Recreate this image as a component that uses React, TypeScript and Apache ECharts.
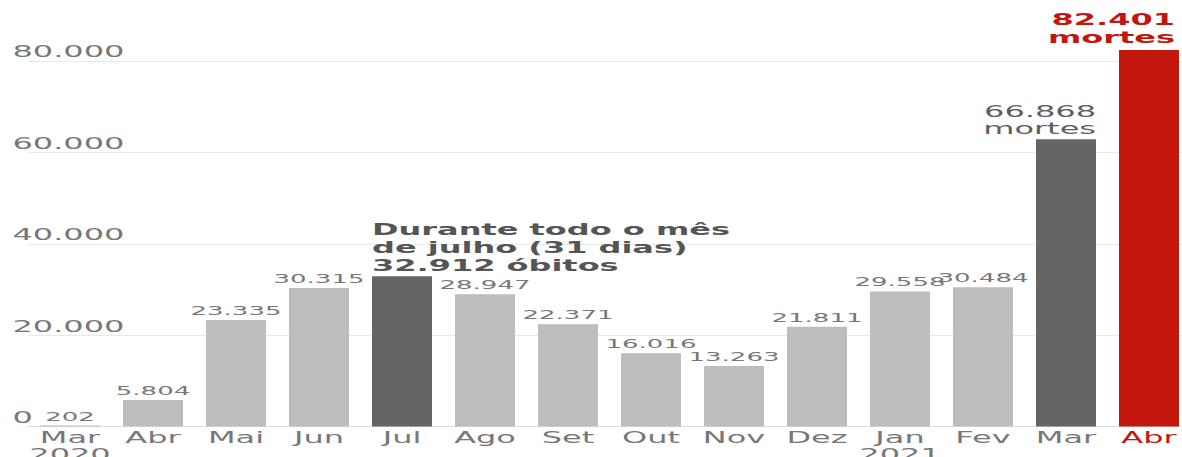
import React, { useEffect, useRef } from "react";
import * as echarts from "echarts";

// Months (category axis)
const categories = ["Mar\n2020", "Abr", "Mai", "Jun", "Jul", "Ago", "Set", "Out", "Nov", "Dez", "Jan\n2021", "Fev", "Mar", "Abr"];
// Monthly deaths as written in the labels
const deaths = [202, 5804, 23335, 30315, 32912, 28947, 22371, 16016, 13263, 21811, 29558, 30484, 66868, 82401];
// Bar heights as drawn in the picture (the Mar 2021 bar is drawn shorter than its label)
const barValues = [202, 5804, 23335, 30315, 32912, 28947, 22371, 16016, 13263, 21811, 29558, 30484, 62900, 82401];
// Y axis ticks
const yTicks = [0, 20000, 40000, 60000, 80000];

const JUL = 4;
const MAR21 = 12;
const ABR21 = 13;

const LIGHT = "#bdbdbd";
const DARK = "#656565";
const RED = "#c3160d";
const FONT = "DejaVu Sans";

const fmt = (n: number) => String(n).replace(/\B(?=(\d{3})+(?!\d))/g, ".");

export default function App() {
  const ref = useRef<HTMLDivElement>(null);
  useEffect(() => {
    if (!ref.current) return;
    const chart = echarts.init(ref.current, undefined, { renderer: "svg" });
    const data = barValues.map((v, i) => {
      const item: any = { value: v, itemStyle: { color: LIGHT } };
      if (i === JUL) {
        item.itemStyle = { color: DARK };
        item.label = {
          position: [0, -2],
          align: "left",
          verticalAlign: "bottom",
          formatter: `Durante todo o mês\nde julho (31 dias)\n${fmt(deaths[i])} óbitos`,
          fontWeight: "bold",
          fontSize: 16,
          lineHeight: 18,
          color: "#555",
        };
      } else if (i === MAR21) {
        item.itemStyle = { color: DARK };
        item.label = {
          position: [30, -2],
          align: "right",
          verticalAlign: "bottom",
          formatter: `${fmt(deaths[i])}\nmortes`,
          fontSize: 16,
          lineHeight: 17,
          color: "#5e5e5e",
        };
      } else if (i === ABR21) {
        item.itemStyle = { color: RED };
        item.label = {
          position: [28, -3],
          align: "right",
          verticalAlign: "bottom",
          formatter: `${fmt(deaths[i])}\nmortes`,
          fontSize: 16,
          fontWeight: "bold",
          lineHeight: 18,
          color: RED,
        };
      }
      return item;
    });
    chart.setOption({
      animation: false,
      textStyle: { fontFamily: FONT },
      grid: { left: 14.25, right: 4.75, top: 61, bottom: 30.5, containLabel: false, outerBoundsMode: "none" },
      xAxis: {
        type: "category",
        data: categories.map((c, i) => (i === ABR21 ? { value: c, textStyle: { color: RED } } : c)),
        axisTick: { show: false },
        axisLine: { show: true, lineStyle: { color: "#dcdcdc", width: 1 } },
        axisLabel: { fontSize: 16, color: "#777", lineHeight: 17, margin: 3, fontFamily: FONT, interval: 0 },
      },
      yAxis: {
        type: "value",
        min: yTicks[0],
        max: yTicks[yTicks.length - 1],
        interval: yTicks[1] - yTicks[0],
        axisLine: { show: false },
        axisTick: { show: false },
        splitLine: { lineStyle: { color: "#e8e8e8", width: 1 } },
        axisLabel: {
          align: "left",
          verticalAlign: "bottom",
          margin: 8,
          fontSize: 16,
          color: "#777",
          fontFamily: FONT,
          padding: [0, 0, 1, 0],
          formatter: (v: number) => fmt(v),
        },
      },
      series: [
        {
          type: "bar",
          barWidth: 30,
          clip: false,
          data,
          label: {
            show: true,
            position: "top",
            distance: 3,
            fontSize: 13,
            color: "#777",
            fontFamily: FONT,
            formatter: (p: any) => fmt(deaths[p.dataIndex]),
          },
        },
      ],
    });
    return () => chart.dispose();
  }, []);
  return (
    <div style={{ position: "absolute", left: 0, top: 0, width: 1182, height: 457, overflow: "hidden", background: "#fff" }}>
      <div ref={ref} style={{ width: 600, height: 457, transform: "scaleX(2)", transformOrigin: "0 0" }} />
    </div>
  );
}
